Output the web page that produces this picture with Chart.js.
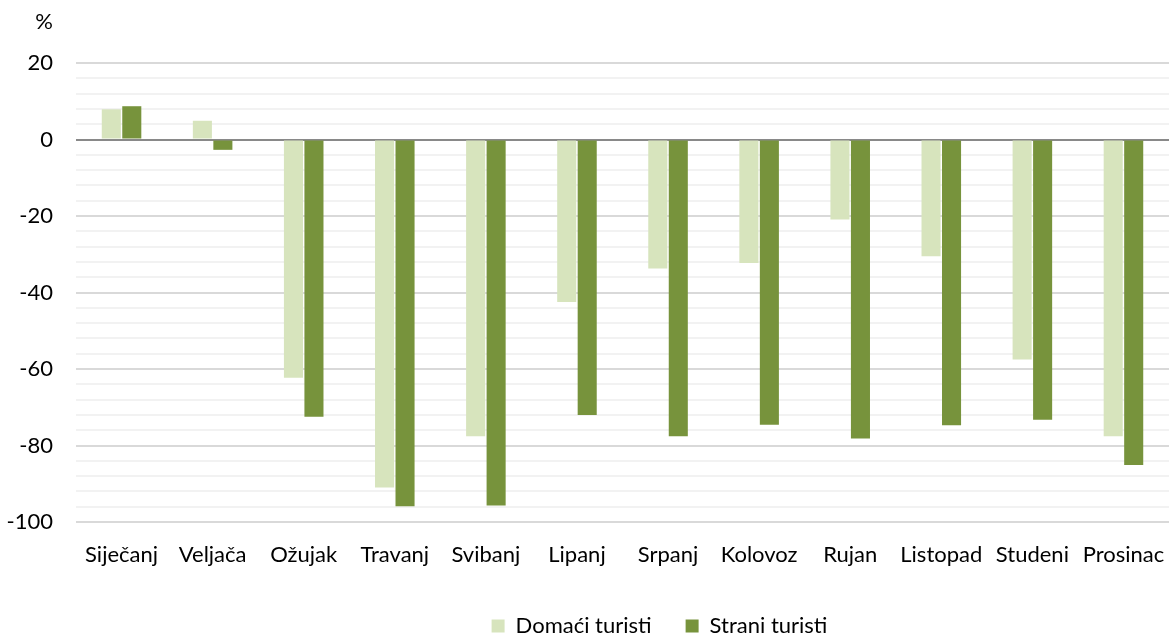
<!DOCTYPE html>
<html>
<head>
<meta charset="utf-8">
<title>Turisti</title>
<script src="https://cdn.jsdelivr.net/npm/chart.js@4.4.1/dist/chart.umd.min.js"></script>
<style>
  html, body { margin: 0; padding: 0; background: #fff; }
  #wrap { width: 1169px; height: 635px; }
</style>
</head>
<body>
<div id="wrap"><canvas id="chart" width="1169" height="635"></canvas></div>
<script>
// chart data
const months = ["Siječanj", "Veljača", "Ožujak", "Travanj", "Svibanj", "Lipanj",
  "Srpanj", "Kolovoz", "Rujan", "Listopad", "Studeni", "Prosinac"];
const domestic = [7.9, 4.9, -62.3, -91.0, -77.6, -42.5, -33.7, -32.3, -20.9, -30.5, -57.5, -77.6];
const foreign = [8.7, -2.7, -72.5, -95.9, -95.7, -72.0, -77.6, -74.6, -78.2, -74.7, -73.3, -85.1];
const seriesNames = ["Domaći turisti", "Strani turisti"];
const yMin = -100;
const yMax = 20;
const yStep = 4;       // minor gridlines
const yLabelStep = 20; // labelled ticks
const unitLabel = "%";

Chart.defaults.font.family = "Lato, 'Open Sans', sans-serif";
Chart.defaults.font.size = 22;
Chart.defaults.color = "#000";

// move the legend down / right and draw the unit label above the y axis
const layoutFix = {
  id: "layoutFix",
  afterLayout(chart) {
    const lg = chart.legend;
    const shift = 75;
    lg.left += shift;
    lg.right += shift;
    lg.top = 581;
    lg.bottom = lg.top + lg.height;
  },
  afterDraw(chart) {
    const ctx = chart.ctx;
    const y = chart.scales.y;
    ctx.save();
    ctx.font = "22px Lato, 'Open Sans', sans-serif";
    ctx.fillStyle = "#000";
    ctx.textAlign = "right";
    ctx.textBaseline = "middle";
    ctx.fillText(unitLabel, y.right - 23, 22);
    ctx.restore();
  }
};

new Chart(document.getElementById("chart"), {
  type: "bar",
  data: {
    labels: months,
    datasets: [{
      label: seriesNames[0],
      data: domestic,
      backgroundColor: "#d7e4bd",
      categoryPercentage: 0.45,
      barPercentage: 0.93
    }, {
      label: seriesNames[1],
      data: foreign,
      backgroundColor: "#77933c",
      categoryPercentage: 0.45,
      barPercentage: 0.93
    }]
  },
  options: {
    responsive: false,
    animation: false,
    layout: { padding: { top: 63, left: 0, right: 0, bottom: 0 } },
    plugins: {
      tooltip: { enabled: false },
      legend: {
        position: "bottom",
        labels: { boxWidth: 13, boxHeight: 13, padding: 34 }
      }
    },
    scales: {
      x: {
        grid: { display: false, drawTicks: false },
        border: { display: false },
        ticks: { padding: 20, maxRotation: 0, autoSkip: false },
        afterFit(scale) {
          scale.height = 635 - 522 - scale.chart.legend.height;
          // plot runs to the right edge, like the original
          scale.paddingLeft = 0;
          scale.paddingRight = 0;
        }
      },
      y: {
        min: yMin,
        max: yMax,
        border: { display: false },
        grid: {
          drawTicks: false,
          color: c => c.tick.value === 0 ? "#898989" : (c.tick.value % yLabelStep === 0 ? "#d9d9d9" : "#f2f2f2"),
          lineWidth: 2
        },
        ticks: {
          stepSize: yStep,
          autoSkip: false,
          padding: 23,
          callback: v => (v % yLabelStep === 0 ? v : "")
        },
        afterFit(scale) {
          scale.width = 76;
        }
      }
    }
  },
  plugins: [layoutFix]
});
</script>
</body>
</html>
